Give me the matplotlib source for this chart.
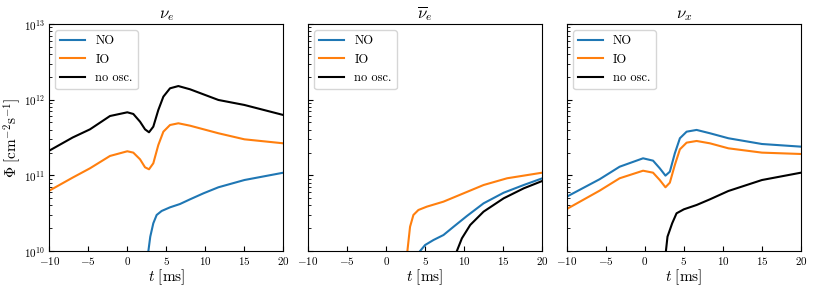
import numpy as np
from matplotlib import pyplot as plt

plt.rcParams['font.family'] = 'serif'
plt.rcParams['font.serif'] = ['cmr10', 'DejaVu Serif']
plt.rcParams['mathtext.fontset'] = 'cm'
plt.rcParams['axes.formatter.use_mathtext'] = True
plt.rcParams['axes.unicode_minus'] = False

# log10 of flux, t in ms
t_nue_noosc = [-10, -7, -4.78, -2.22, 0, 0.77, 1.63, 2.27, 2.78, 3.33, 3.97, 4.62,
               5.47, 6.54, 8.04, 11.67, 15, 20]
lg_nue_noosc = [11.326, 11.5, 11.608, 11.784, 11.833, 11.811, 11.709, 11.608, 11.569,
                11.643, 11.863, 12.04, 12.15, 12.18, 12.137, 11.996, 11.93, 11.797]
t_nue_io = t_nue_noosc
lg_nue_io = [10.797, 10.97, 11.093, 11.256, 11.318, 11.30, 11.212, 11.106, 11.08,
             11.159, 11.40, 11.577, 11.665, 11.688, 11.656, 11.556, 11.476, 11.423]
t_nue_no = [2.7, 2.94, 3.33, 3.76, 4.4, 5.47, 6.75, 8.04, 9.75, 11.67, 15, 20]
lg_nue_no = [10.0, 10.189, 10.366, 10.476, 10.529, 10.577, 10.621, 10.683, 10.762,
             10.842, 10.938, 11.035]

t_nuebar_io = [2.73, 3.07, 3.5, 4.14, 5.22, 7.35, 9.92, 12.49, 15.5, 20]
lg_nuebar_io = [10.0, 10.32, 10.476, 10.542, 10.586, 10.652, 10.762, 10.872, 10.961, 11.035]
t_nuebar_no = [4.36, 5.0, 6.07, 7.35, 8.64, 10.36, 12.49, 15.06, 17.63, 20]
lg_nuebar_no = [10.0, 10.079, 10.145, 10.211, 10.32, 10.463, 10.63, 10.77, 10.872, 10.96]
t_nuebar_noosc = [9.07, 9.71, 10.78, 12.49, 15.06, 17.63, 20]
lg_nuebar_noosc = [10.0, 10.167, 10.344, 10.52, 10.696, 10.828, 10.925]

t_nux_no = [-10, -5.8, -3.23, -0.23, 1.05, 1.91, 2.64, 3.2, 3.84, 4.49, 5.35, 6.63,
            8.34, 10.7, 15, 20]
lg_nux_no = [10.718, 10.948, 11.114, 11.225, 11.194, 11.093, 10.996, 11.048, 11.291,
             11.49, 11.577, 11.6, 11.556, 11.49, 11.414, 11.379]
t_nux_io = t_nux_no
lg_nux_io = [10.555, 10.797, 10.961, 11.061, 11.035, 10.938, 10.842, 10.903, 11.137,
             11.344, 11.432, 11.454, 11.423, 11.357, 11.3, 11.282]
t_nux_noosc = [2.7, 2.9, 3.5, 4.06, 5.0, 6.63, 8.34, 10.7, 15, 20]
lg_nux_noosc = [10.0, 10.189, 10.366, 10.498, 10.551, 10.608, 10.683, 10.793, 10.938, 11.035]

titles = [r'$\nu_e$', r'$\overline{\nu}_e$', r'$\nu_x$']
panels = [
    [(t_nue_no, lg_nue_no), (t_nue_io, lg_nue_io), (t_nue_noosc, lg_nue_noosc)],
    [(t_nuebar_no, lg_nuebar_no), (t_nuebar_io, lg_nuebar_io), (t_nuebar_noosc, lg_nuebar_noosc)],
    [(t_nux_no, lg_nux_no), (t_nux_io, lg_nux_io), (t_nux_noosc, lg_nux_noosc)],
]
labels = ['NO', 'IO', 'no osc.']
colors = ['#1f77b4', '#ff7f0e', 'black']

fig, axes = plt.subplots(1, 3, figsize=(8.14, 2.91), dpi=100, sharey=True)
fig.subplots_adjust(left=0.0605, right=0.984, top=0.9175, bottom=0.1375, wspace=0.105)

for ax, title, curves in zip(axes, titles, panels):
    for (t, lg), lab, c in zip(curves, labels, colors):
        ax.plot(t, 10 ** np.array(lg), color=c, lw=1.5, label=lab)
    ax.set_yscale('log')
    ax.set_ylim(1e10, 1e13)
    ax.set_xlim(-10, 20)
    ax.set_xticks([-10, -5, 0, 5, 10, 15, 20])
    ax.tick_params(which='both', direction='in', labelsize=8, pad=3)
    ax.set_title(title, fontsize=12, pad=4)
    ax.set_xlabel(r'$t\ [\mathrm{ms}]$', fontsize=11, labelpad=0)
    ax.legend(loc='upper left', fontsize=9)

axes[0].set_ylabel(r'$\Phi\ [\mathrm{cm}^{-2}\mathrm{s}^{-1}]$', fontsize=11, labelpad=1)

plt.savefig('out.png', dpi=100)
